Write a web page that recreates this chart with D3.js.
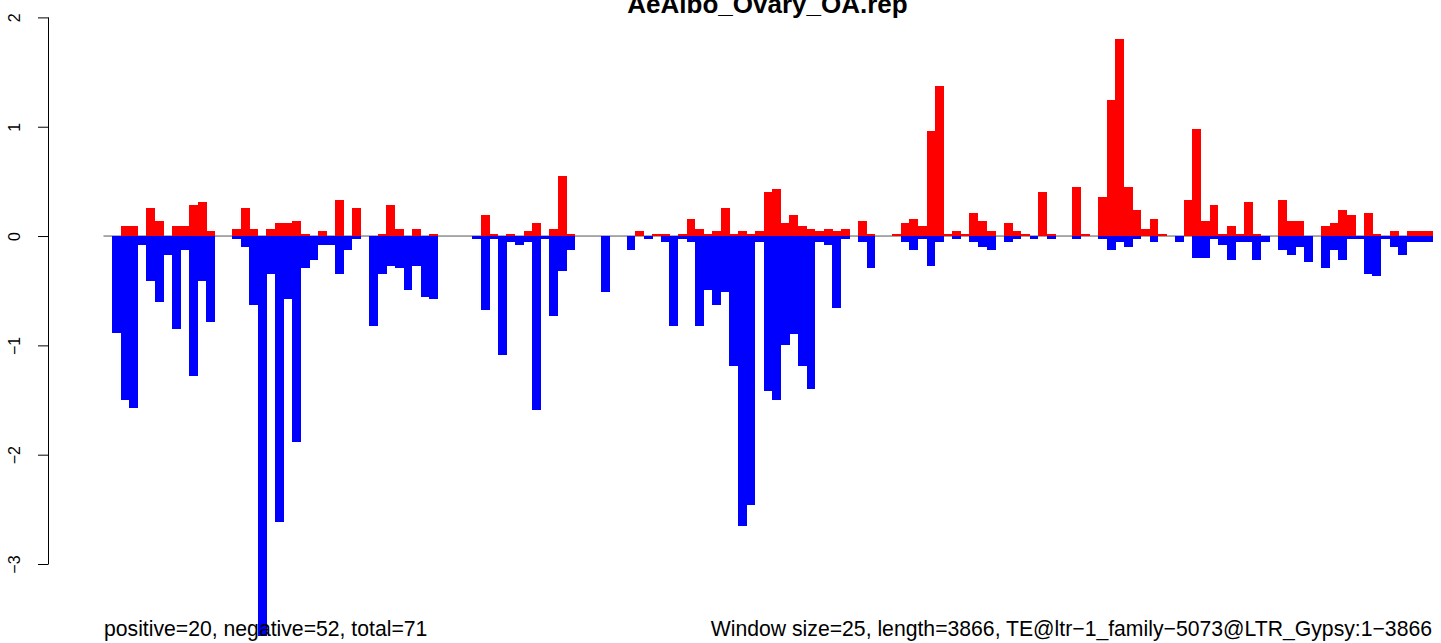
<!DOCTYPE html>
<html>
<head>
<meta charset="utf-8">
<script src="https://cdn.jsdelivr.net/npm/d3@7"></script>
<style>
  html, body { margin: 0; padding: 0; background: #fff; }
  svg { display: block; }
  text { font-family: "Liberation Sans", Arial, Helvetica, sans-serif; }
</style>
</head>
<body>
<svg id="chart" width="1441" height="643"></svg>
<script>
// ---- data (one value per 25-bp window, 155 windows) ----
const positiveValues = [
  0, 0, 0.09, 0.09, 0, 0.26, 0.14, 0, 0.09, 0.09,
  0.28, 0.31, 0.05, 0, 0, 0.06, 0.26, 0.06, 0, 0.06,
  0.12, 0.12, 0.14, 0.02, 0, 0.05, 0, 0.33, 0, 0.26,
  0, 0, 0.02, 0.28, 0.06, 0, 0.06, 0, 0.02, 0,
  0, 0, 0, 0, 0.19, 0.02, 0, 0.02, 0, 0.05,
  0.12, 0, 0.06, 0.55, 0.02, 0, 0, 0, 0, 0,
  0, 0, 0.05, 0, 0.02, 0.02, 0, 0.02, 0.16, 0.06,
  0.02, 0.05, 0.26, 0.02, 0.05, 0.02, 0.05, 0.40, 0.43, 0.12,
  0.19, 0.09, 0.06, 0.05, 0.06, 0.05, 0.06, 0, 0.14, 0.02,
  0, 0, 0.02, 0.12, 0.16, 0.09, 0.96, 1.37, 0.02, 0.05,
  0.02, 0.21, 0.14, 0.05, 0, 0.12, 0.05, 0.02, 0, 0.40,
  0.02, 0, 0, 0.45, 0.02, 0, 0.36, 1.24, 1.80, 0.45,
  0.24, 0.06, 0.16, 0.02, 0, 0, 0.33, 0.98, 0.14, 0.28,
  0.02, 0.09, 0.02, 0.31, 0.02, 0, 0, 0.33, 0.14, 0.14,
  0, 0, 0.09, 0.12, 0.24, 0.19, 0, 0.21, 0.02, 0,
  0.05, 0, 0.05, 0.05, 0.05
];
const negativeValues = [
  0, -0.89, -1.50, -1.57, -0.08, -0.41, -0.60, -0.17, -0.85, -0.13,
  -1.28, -0.41, -0.79, 0, 0, -0.03, -0.10, -0.63, -3.66, -0.35,
  -2.62, -0.58, -1.88, -0.29, -0.22, -0.08, -0.08, -0.35, -0.13, -0.03,
  0, -0.82, -0.35, -0.27, -0.29, -0.49, -0.27, -0.56, -0.58, 0,
  0, 0, 0, -0.03, -0.68, -0.03, -1.09, -0.05, -0.08, -0.05,
  -1.59, -0.03, -0.73, -0.32, -0.13, 0, 0, 0, -0.51, 0,
  0, -0.13, 0, -0.03, 0, -0.05, -0.82, -0.03, -0.05, -0.82,
  -0.49, -0.63, -0.51, -1.19, -2.65, -2.46, -0.05, -1.42, -1.50, -1.00,
  -0.90, -1.19, -1.40, -0.05, -0.08, -0.66, -0.03, 0, -0.05, -0.29,
  0, 0, 0, -0.05, -0.13, -0.03, -0.27, -0.05, 0, -0.03,
  0, -0.05, -0.10, -0.13, 0, -0.05, -0.03, 0, -0.03, 0,
  -0.03, 0, 0, -0.03, 0, 0, -0.03, -0.13, -0.05, -0.10,
  -0.03, 0, -0.05, 0, 0, -0.05, 0, -0.20, -0.20, -0.03,
  -0.08, -0.22, -0.05, -0.05, -0.22, -0.05, 0, -0.13, -0.17, -0.10,
  -0.24, 0, -0.29, -0.13, -0.22, -0.03, -0.03, -0.35, -0.37, -0.03,
  -0.10, -0.17, -0.05, -0.05, -0.05
];
const yTicks = [-3, -2, -1, 0, 1, 2];
const titleText = "AeAlbo_Ovary_OA.rep";
const leftNote = "positive=20, negative=52, total=71";
const rightNote = "Window size=25, length=3866, TE@ltr\u22121_family\u22125073@LTR_Gypsy:1\u22123866";

// ---- layout ----
const svg = d3.select("#chart");
const windows = d3.range(positiveValues.length);

const x = d3.scaleBand()
  .domain(windows)
  .range([103.5, 1432.5])
  .padding(0);

const y = d3.scaleLinear()
  .domain([-3, 2])
  .range([564, 17.4]);

// baseline
svg.append("line")
  .attr("x1", x.range()[0]).attr("x2", x.range()[1])
  .attr("y1", y(0)).attr("y2", y(0))
  .attr("stroke", "#555").attr("stroke-width", 1);

// negative bars (blue)
svg.append("g").selectAll("rect")
  .data(windows.filter(i => negativeValues[i] < 0))
  .join("rect")
  .attr("x", i => x(i))
  .attr("width", x.bandwidth() + 0.3)
  .attr("y", y(0))
  .attr("height", i => y(negativeValues[i]) - y(0))
  .attr("fill", "#0000FF")
  .attr("shape-rendering", "crispEdges");

// positive bars (red)
svg.append("g").selectAll("rect")
  .data(windows.filter(i => positiveValues[i] > 0))
  .join("rect")
  .attr("x", i => x(i))
  .attr("width", x.bandwidth() + 0.3)
  .attr("y", i => y(positiveValues[i]))
  .attr("height", i => y(0) - y(positiveValues[i]))
  .attr("fill", "#FF0000")
  .attr("shape-rendering", "crispEdges");

// y axis (R style: vertical labels)
const axisX = 48;
const yAxis = d3.axisLeft(y)
  .tickValues(yTicks)
  .tickSize(10)
  .tickPadding(0)
  .tickFormat(d => d < 0 ? "\u2212" + Math.abs(d) : String(d));
const gAxis = svg.append("g")
  .attr("transform", `translate(${axisX},0)`)
  .call(yAxis);
gAxis.select(".domain")
  .attr("d", `M0.5,${y(2)}V${y(-3)}`)
  .attr("stroke", "#000");
gAxis.selectAll(".tick line").attr("stroke", "#000").attr("x1", 0.5).attr("x2", -10);
gAxis.selectAll(".tick text")
  .attr("font-size", 16)
  .attr("font-family", "Liberation Sans, Arial, sans-serif")
  .attr("fill", "#000")
  .attr("text-anchor", "middle")
  .attr("dy", null)
  .attr("x", null)
  .attr("transform", "translate(-28,0) rotate(-90)");

// title
svg.append("text")
  .attr("x", 767.5).attr("y", 13)
  .attr("text-anchor", "middle")
  .attr("font-weight", "bold")
  .attr("font-size", 26)
  .text(titleText);

// bottom notes
svg.append("text")
  .attr("x", 104).attr("y", 636)
  .attr("font-size", 21.2)
  .text(leftNote);
svg.append("text")
  .attr("x", 1432).attr("y", 636)
  .attr("text-anchor", "end")
  .attr("font-size", 21.2)
  .text(rightNote);
</script>
</body>
</html>
